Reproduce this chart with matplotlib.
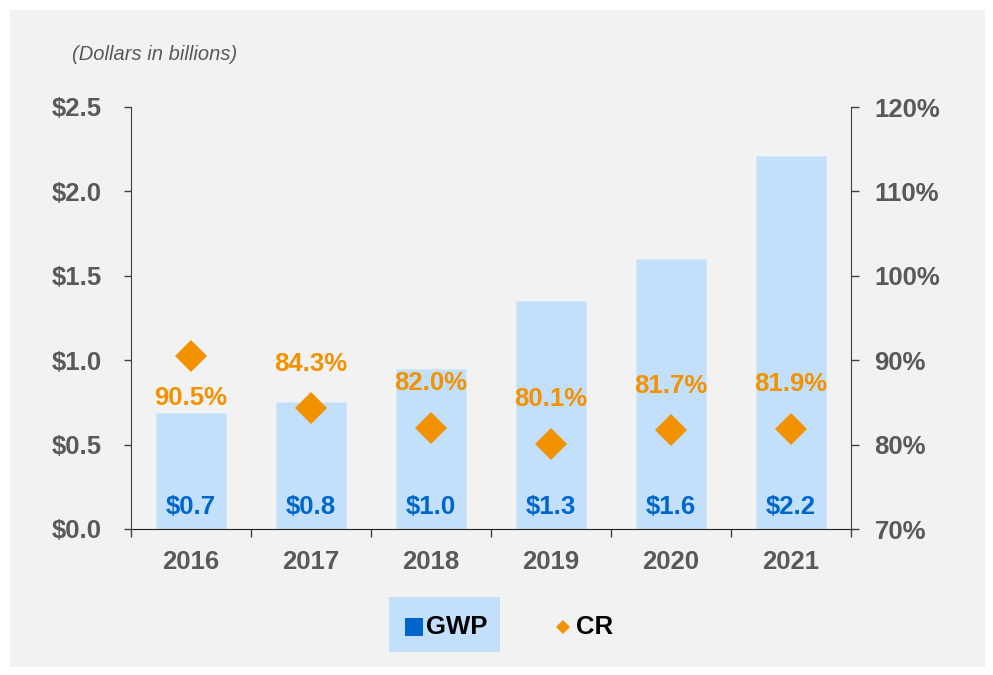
import matplotlib.pyplot as plt
from matplotlib.lines import Line2D
from matplotlib.patches import Rectangle

plt.rcParams['font.family'] = ['Liberation Sans', 'DejaVu Sans']
plt.rcParams['font.weight'] = 'bold'

# Data
years = ['2016', '2017', '2018', '2019', '2020', '2021']
gwp = [0.69, 0.75, 0.95, 1.35, 1.60, 2.21]
gwp_labels = ['$0.7', '$0.8', '$1.0', '$1.3', '$1.6', '$2.2']
cr = [90.5, 84.3, 82.0, 80.1, 81.7, 81.9]
cr_labels = ['90.5%', '84.3%', '82.0%', '80.1%', '81.7%', '81.9%']

bar_color = '#c2e0fc'
blue = '#0066cc'
orange = '#f39200'
gray = '#595959'
fs = 18.5

fig = plt.figure(figsize=(9.93, 6.75), dpi=100, facecolor='white')
# grey panel
fig.patches.append(Rectangle((10 / 993, 8 / 675), 975 / 993, 657 / 675,
                             transform=fig.transFigure, facecolor='#f2f2f2',
                             edgecolor='none', zorder=-10))

ax = fig.add_axes([131 / 993, 146 / 675, 720 / 993, 422 / 675])
ax.set_facecolor('none')
x = list(range(len(years)))
ax.bar(x, gwp, width=0.59, color=bar_color, edgecolor='#d6eafc', linewidth=0.6, zorder=1)
ax.set_xlim(-0.5, len(years) - 0.5)
ax.set_ylim(0, 2.5)
ax.set_yticks([0, 0.5, 1.0, 1.5, 2.0, 2.5])
ax.set_yticklabels(['$0.0', '$0.5', '$1.0', '$1.5', '$2.0', '$2.5'])
ax.set_xticks(x)
ax.set_xticklabels(years)
ax.set_xticks([i + 0.5 for i in range(-1, len(years))], minor=True)
ax.tick_params(axis='x', which='major', length=0, pad=15, labelsize=fs, labelcolor=gray)
ax.tick_params(axis='x', which='minor', length=6, width=1, direction='out', color='#404040')
ax.tick_params(axis='y', length=5, width=1, pad=16, labelsize=fs, labelcolor=gray, color='#404040')
for s in ['top', 'right']:
    ax.spines[s].set_visible(False)
ax.spines['left'].set_color('#404040')
ax.spines['bottom'].set_color('#202020')

for i, lab in enumerate(gwp_labels):
    ax.text(i, 0.13, lab, ha='center', va='center', color=blue, fontsize=fs,
            fontweight='bold', zorder=3)

ax2 = ax.twinx()
ax2.set_ylim(70, 120)
ax2.set_yticks([70, 80, 90, 100, 110, 120])
ax2.set_yticklabels([f'{v}%' for v in [70, 80, 90, 100, 110, 120]])
ax2.tick_params(axis='y', length=6, width=1, pad=11, labelsize=fs, labelcolor=gray, color='#404040')
for s in ['top', 'left', 'bottom']:
    ax2.spines[s].set_visible(False)
ax2.spines['right'].set_color('#404040')
ax2.plot(x, cr, linestyle='none', marker='D', markersize=16, color=orange,
         markeredgewidth=0, zorder=4)
for i, (v, lab) in enumerate(zip(cr, cr_labels)):
    dy = -30 if i == 0 else 32
    ax2.annotate(lab, (i, v), xytext=(0, dy), textcoords='offset points',
                 ha='center', va='center', color=orange, fontsize=fs, fontweight='bold')

fig.text(72 / 993, 1 - 55 / 675, '(Dollars in billions)', fontsize=14.5, style='italic',
         fontweight='normal', color=gray, va='center', ha='left')

# legend
fig.patches.append(Rectangle((389 / 993, 1 - 652 / 675), 111 / 993, 55 / 675,
                             transform=fig.transFigure, facecolor=bar_color,
                             edgecolor='none', zorder=1))
ly = 1 - 627 / 675
fig.lines.append(Line2D([413.5 / 993], [ly], transform=fig.transFigure, marker='s',
                        markersize=13.5, color=blue, markeredgewidth=0, linestyle='none', zorder=2))
fig.text(426 / 993, ly, 'GWP', fontsize=fs, fontweight='bold', color='black',
         va='center', ha='left', zorder=3)
fig.lines.append(Line2D([563 / 993], [ly], transform=fig.transFigure, marker='D',
                        markersize=7.5, color=orange, markeredgewidth=0, linestyle='none', zorder=2))
fig.text(576 / 993, ly, 'CR', fontsize=fs, fontweight='bold', color='black',
         va='center', ha='left', zorder=3)

fig.savefig('out.png', dpi=100, facecolor='white')
